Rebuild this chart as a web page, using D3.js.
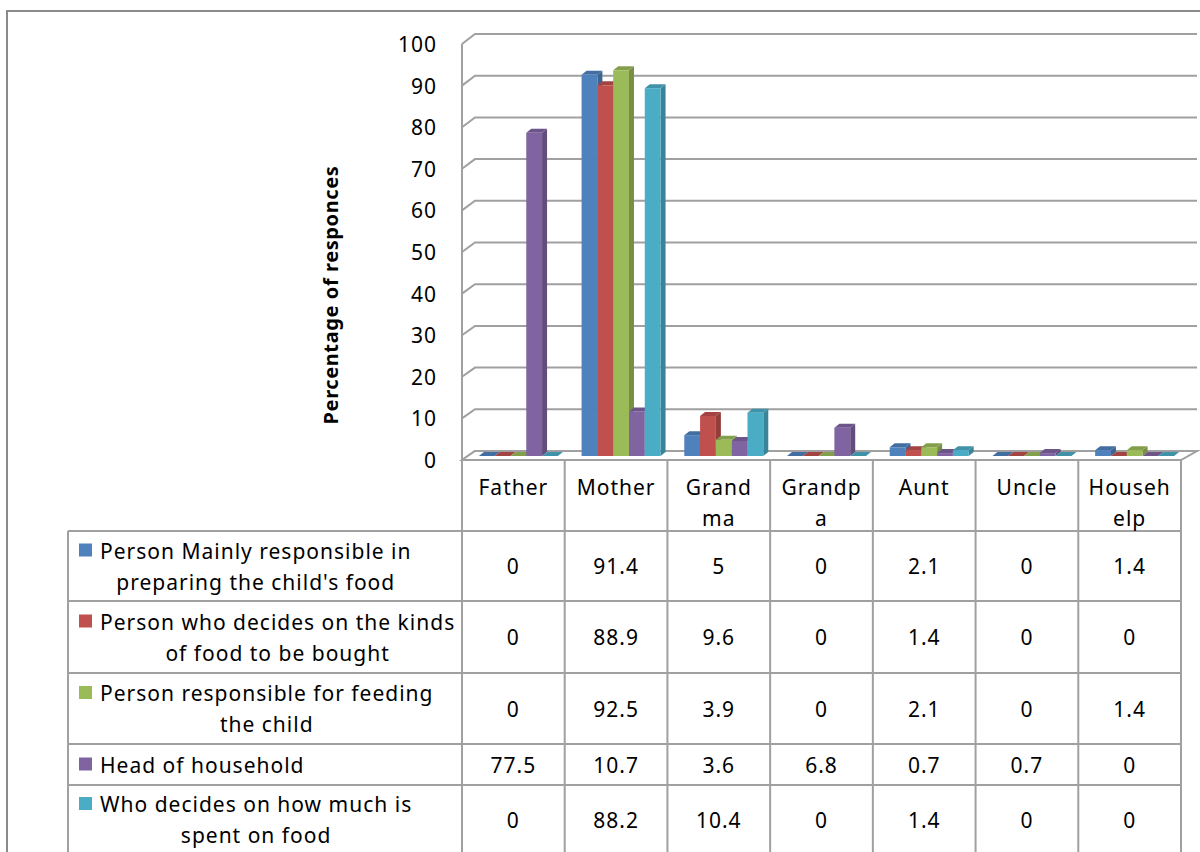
<!DOCTYPE html>
<html>
<head>
<meta charset="utf-8">
<script src="https://cdn.jsdelivr.net/npm/d3@7"></script>
<style>
  html, body { margin: 0; padding: 0; background: #fff; }
  svg { display: block; }
  text { font-family: "Noto Sans", "Open Sans", sans-serif; fill: #000; letter-spacing: 1px; }
</style>
</head>
<body>
<svg id="chart" width="1200" height="852"></svg>
<script>
// Who takes part in the child's feeding, by household member (% of responses)
const categories = ["Father", "Mother", "Grandma", "Grandpa", "Aunt", "Uncle", "Househelp"];
const categoryLabelLines = [["Father"], ["Mother"], ["Grand", "ma"], ["Grandp", "a"], ["Aunt"], ["Uncle"], ["Househ", "elp"]];

const seriesNames = [
  "Person Mainly responsible in preparing the child's food",
  "Person who decides on the kinds of food to be bought",
  "Person responsible for feeding the child",
  "Head of household",
  "Who decides on how much is spent on food"
];
const seriesLabelLines = [
  ["Person Mainly responsible in", "preparing the child's food"],
  ["Person who decides on the kinds", "of food to be bought"],
  ["Person responsible for feeding", "the child"],
  ["Head of household"],
  ["Who decides on how much is", "spent on food"]
];
const seriesColors = ["#4f81bd", "#c0504d", "#9bbb59", "#8064a2", "#4bacc6"];

const preparingFood  = [0, 91.4, 5, 0, 2.1, 0, 1.4];
const decidesKinds   = [0, 88.9, 9.6, 0, 1.4, 0, 0];
const feedingChild   = [0, 92.5, 3.9, 0, 2.1, 0, 1.4];
const headHousehold  = [77.5, 10.7, 3.6, 6.8, 0.7, 0.7, 0];
const decidesSpend   = [0, 88.2, 10.4, 0, 1.4, 0, 0];
const seriesValues = [preparingFood, decidesKinds, feedingChild, headHousehold, decidesSpend];

const yTicks = [0, 10, 20, 30, 40, 50, 60, 70, 80, 90, 100];

const svg = d3.select("#chart");
const gridColor = "#a0a0a0";
const fontSize = 21;

// ---- scales ----------------------------------------------------------
const plotLeft = 462, plotRight = 1181;
const x = d3.scaleBand().domain(categories).range([plotLeft, plotRight]);
const yFront = d3.scaleLinear().domain([0, 100]).range([460, 44]);  // front edge of the left wall
const yBack  = d3.scaleLinear().domain([0, 100]).range([451, 34]);  // back wall
const yBar   = d3.scaleLinear().domain([0, 100]).range([456, 39]);  // bar front faces
const backLeft = 475, backRight = 1197;

const groupWidth = 79;
const xSeries = d3.scaleBand().domain(seriesNames).range([0, groupWidth]);
const barShift = 5;           // bars stand part-way into the depth of the plot
const barDepthX = 5, barDepthY = 4;

// ---- outer frame -----------------------------------------------------
svg.append("path")
  .attr("d", "M7,852 L7,11 L1200,11")
  .attr("fill", "none").attr("stroke", "#8a8a8a").attr("stroke-width", 2);

// ---- walls & gridlines ----------------------------------------------
const grid = svg.append("g");
yTicks.forEach(v => {
  grid.append("path")
    .attr("d", `M${plotLeft},${yFront(v)} L${backLeft},${yBack(v)} L${backRight},${yBack(v)}`)
    .attr("fill", "none").attr("stroke", gridColor).attr("stroke-width", 2);
});
// left wall front edge
grid.append("line")
  .attr("x1", plotLeft).attr("x2", plotLeft)
  .attr("y1", yFront(100)).attr("y2", yFront(0))
  .attr("stroke", gridColor).attr("stroke-width", 2);
// floor
svg.append("path")
  .attr("d", `M${plotLeft},${yFront(0)} L${backLeft},${yBack(0)} L${backRight},${yBack(0)} L${plotRight},${yFront(0)} Z`)
  .attr("fill", "#fff").attr("stroke", gridColor).attr("stroke-width", 2);

// ---- y axis labels ---------------------------------------------------
svg.append("g").selectAll("text").data(yTicks).join("text")
  .attr("x", 437).attr("y", d => yFront(d))
  .attr("text-anchor", "end").attr("dominant-baseline", "central")
  .style("font-size", fontSize + "px")
  .text(d => d);

svg.append("text")
  .attr("transform", "translate(330,295) rotate(-90)")
  .attr("text-anchor", "middle").attr("dominant-baseline", "central")
  .style("font-size", "20px").style("font-weight", "bold").style("letter-spacing", "0.6px")
  .text("Percentage of responces");

// ---- 3D columns ------------------------------------------------------
const barData = [];
categories.forEach((c, ci) => {
  seriesNames.forEach((s, si) => {
    barData.push({ c, s, si, v: seriesValues[si][ci] });
  });
});
const bars = svg.append("g");
barData.forEach(d => {
  const x0 = x(d.c) + (x.bandwidth() - groupWidth) / 2 + barShift + xSeries(d.s);
  const x1 = x0 + xSeries.bandwidth();
  const yT = yBar(d.v), yB = yBar(0);
  const base = d3.color(seriesColors[d.si]);
  const g = bars.append("g");
  // right side face
  g.append("path")
    .attr("d", `M${x1},${yB} L${x1 + barDepthX},${yB - barDepthY} L${x1 + barDepthX},${yT - barDepthY} L${x1},${yT} Z`)
    .attr("fill", base.darker(0.75));
  // top face
  g.append("path")
    .attr("d", `M${x0},${yT} L${x0 + barDepthX},${yT - barDepthY} L${x1 + barDepthX},${yT - barDepthY} L${x1},${yT} Z`)
    .attr("fill", base.darker(0.45));
  // front face
  g.append("rect")
    .attr("x", x0).attr("y", yT).attr("width", x1 - x0).attr("height", yB - yT)
    .attr("fill", base);
});

// ---- data table ------------------------------------------------------
const tableLeft = 68;
const rowEdges = [531, 601, 673, 744, 785, 852];
const table = svg.append("g");
const lineAttrs = sel => sel.attr("stroke", gridColor).attr("stroke-width", 2);

// column rules below the floor
const colEdges = categories.map(c => x(c)).concat([plotRight]);
colEdges.forEach(cx => {
  table.append("line").attr("x1", cx).attr("x2", cx).attr("y1", yFront(0)).attr("y2", 852).call(lineAttrs);
});
table.append("line").attr("x1", tableLeft).attr("x2", tableLeft).attr("y1", rowEdges[0]).attr("y2", 852).call(lineAttrs);
rowEdges.slice(0, 5).forEach(ry => {
  table.append("line").attr("x1", tableLeft).attr("x2", plotRight).attr("y1", ry).attr("y2", ry).call(lineAttrs);
});

// category header labels
categories.forEach((c, ci) => {
  categoryLabelLines[ci].forEach((ln, li) => {
    table.append("text")
      .attr("x", x(c) + x.bandwidth() / 2)
      .attr("y", 487 + li * 31)
      .attr("text-anchor", "middle").attr("dominant-baseline", "central")
      .style("font-size", fontSize + "px")
      .text(ln);
  });
});

// legend column + values
seriesNames.forEach((s, si) => {
  const top = rowEdges[si], bottom = rowEdges[si + 1];
  const cy = (top + bottom) / 2 + (si === 4 ? 1 : 0);
  const lines = seriesLabelLines[si];
  const lineGap = 31;
  const firstY = cy - (lines.length - 1) * lineGap / 2;

  table.append("rect")
    .attr("x", 79).attr("y", firstY - 7).attr("width", 13).attr("height", 13)
    .attr("fill", seriesColors[si]);

  const t0 = table.append("text")
    .attr("x", 100).attr("y", firstY)
    .attr("dominant-baseline", "central")
    .style("font-size", fontSize + "px")
    .text(lines[0]);
  const w0 = t0.node().getComputedTextLength();
  lines.slice(1).forEach((ln, li) => {
    table.append("text")
      .attr("x", 100 + w0 / 2).attr("y", firstY + (li + 1) * lineGap)
      .attr("text-anchor", "middle").attr("dominant-baseline", "central")
      .style("font-size", fontSize + "px")
      .text(ln);
  });

  categories.forEach((c, ci) => {
    table.append("text")
      .attr("x", x(c) + x.bandwidth() / 2).attr("y", cy)
      .attr("text-anchor", "middle").attr("dominant-baseline", "central")
      .style("font-size", fontSize + "px")
      .text(seriesValues[si][ci]);
  });
});
</script>
</body>
</html>
